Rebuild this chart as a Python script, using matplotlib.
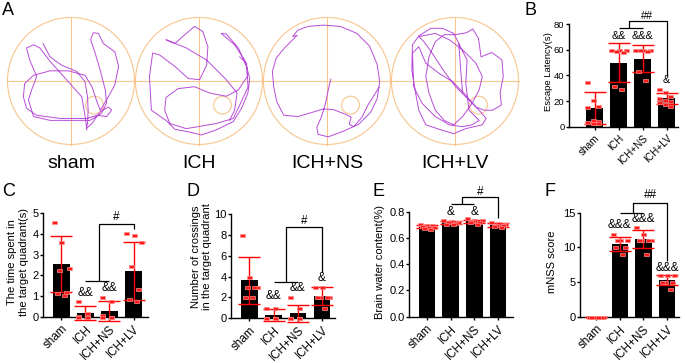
import numpy as np
import matplotlib.pyplot as plt
from matplotlib.patches import Circle

plt.rcParams['font.family'] = ['Liberation Sans', 'DejaVu Sans']

W, H = 685, 363
groups = ['sham', 'ICH', 'ICH+NS', 'ICH+LV']

# ---- A: swim paths (pool radius = 1, x right, y up)
sham_path = [(-0.44, 0.59), (-0.33, 0.38), (-0.15, 0.25), (0.09, 0.15), (0.22, -0.01), (0.26, -0.25),
             (0.27, -0.46), (0.26, -0.67), (0.24, -0.75), (0.33, -0.67), (0.46, -0.48), (0.59, -0.41),
             (0.64, -0.46), (0.56, -0.56), (0.41, -0.54), (0.25, -0.59), (-0.17, -0.59), (-0.54, -0.54),
             (-0.70, -0.43), (-0.75, -0.25), (-0.73, -0.04), (-0.59, 0.09), (-0.33, 0.16), (-0.04, 0.16),
             (0.22, 0.09), (0.33, -0.09), (0.41, -0.33), (0.46, -0.46), (0.56, -0.30), (0.69, -0.06),
             (0.75, 0.23), (0.69, 0.46), (0.51, 0.59), (0.43, 0.75), (0.35, 0.76), (0.31, 0.65),
             (0.38, 0.44), (0.46, 0.17), (0.54, -0.14), (0.56, -0.35), (0.48, -0.51), (0.30, -0.62),
             (-0.33, -0.62), (-0.59, -0.56), (-0.67, -0.30), (-0.62, -0.14), (-0.54, 0.07), (-0.65, 0.33),
             (-0.70, 0.52), (-0.59, 0.57), (-0.49, 0.52), (-0.33, 0.31), (-0.07, 0.02), (0.17, -0.25),
             (0.22, -0.54), (0.25, -0.77)]
ich_path = [(0.48, -0.62), (0.56, -0.46), (0.60, -0.19), (0.43, 0.02), (0.12, 0.33), (-0.20, 0.52),
            (-0.52, 0.65), (-0.38, 0.59), (-0.20, 0.75), (-0.07, 0.86), (0.06, 0.78), (0.14, 0.54),
            (0.12, 0.25), (0.01, 0.02), (-0.17, 0.04), (-0.38, 0.23), (-0.62, 0.41), (-0.73, 0.44),
            (-0.78, 0.07), (-0.75, -0.46), (-0.52, -0.62), (-0.38, -0.76), (-0.17, -0.80), (0.04, -0.85),
            (0.27, -0.77), (0.54, -0.64), (0.67, -0.43), (0.77, -0.19), (0.80, 0.04), (0.72, 0.33),
            (0.56, 0.57), (0.35, 0.75), (0.43, 0.74), (0.62, 0.52), (0.76, 0.20), (0.77, -0.10),
            (0.64, -0.38), (0.54, -0.59), (0.27, -0.67), (0.04, -0.71), (-0.20, -0.75), (-0.46, -0.67),
            (-0.54, -0.46), (-0.52, -0.26), (-0.33, -0.12), (-0.07, -0.09), (0.17, -0.19), (0.43, -0.24),
            (0.62, -0.14), (0.76, 0.07), (0.75, 0.28), (0.64, 0.38)]
ns_path = [(0.06, 0.03), (0.02, -0.14), (-0.03, -0.38), (-0.09, -0.57), (-0.16, -0.73), (-0.14, -0.84),
           (0.02, -0.88), (0.26, -0.79), (0.50, -0.68), (0.69, -0.49), (0.79, -0.28), (0.83, -0.01),
           (0.79, 0.26), (0.67, 0.55), (0.47, 0.75), (0.21, 0.86), (-0.06, 0.88), (-0.30, 0.86),
           (-0.46, 0.80), (-0.54, 0.70), (-0.47, 0.72), (-0.56, 0.63), (-0.67, 0.52), (-0.80, 0.36),
           (-0.86, 0.15), (-0.84, -0.09), (-0.79, -0.33), (-0.68, -0.54), (-0.46, -0.56), (-0.22, -0.49),
           (-0.06, -0.44), (0.10, -0.45), (0.28, -0.52), (0.38, -0.57), (0.35, -0.68), (0.42, -0.72),
           (0.55, -0.57), (0.65, -0.37), (0.82, -0.10)]
lv_path = [(0.12, -0.19), (0.09, 0.17), (0.06, 0.59), (-0.02, 0.75), (-0.20, 0.83), (-0.38, 0.83),
           (-0.57, 0.71), (-0.67, 0.57), (-0.68, 0.17), (-0.62, -0.19), (-0.57, -0.46), (-0.46, -0.69),
           (-0.25, -0.76), (-0.02, -0.83), (0.17, -0.75), (0.43, -0.69), (0.49, -0.59), (0.38, -0.46),
           (0.22, -0.30), (0.01, -0.09), (-0.17, 0.15), (-0.36, 0.44), (-0.49, 0.62), (-0.57, 0.70),
           (-0.31, 0.75), (-0.09, 0.65), (0.12, 0.49), (0.33, 0.28), (0.43, 0.07), (0.38, -0.14),
           (0.27, -0.35), (0.12, -0.56), (-0.02, -0.69), (-0.17, -0.62), (-0.31, -0.46), (-0.41, -0.19),
           (-0.46, 0.07), (-0.41, 0.38), (-0.31, 0.62), (-0.17, 0.73), (0.01, 0.73), (0.18, 0.76),
           (0.28, 0.82), (0.37, 0.67), (0.41, 0.38), (0.58, 0.45), (0.74, 0.33), (0.76, 0.07),
           (0.71, -0.19), (0.73, -0.38), (0.59, -0.46), (0.46, -0.46), (0.33, -0.41), (0.14, -0.19),
           (-0.04, -0.01), (-0.25, 0.12), (-0.46, 0.28), (-0.57, 0.54), (-0.67, 0.44), (-0.65, -0.09),
           (-0.52, -0.35), (-0.31, -0.56), (-0.09, -0.69), (0.12, -0.72), (0.27, -0.69), (0.38, -0.62),
           (0.22, -0.46), (0.17, -0.04), (0.19, 0.33), (0.06, 0.59)]
paths = [sham_path, ich_path, ns_path, lv_path]
platform = (0.37, -0.38, 0.14)

# ---- B: escape latency
latency_mean = [14.5, 50, 53, 22]
latency_sd = [12.3, 15, 10.5, 4.5]
latency_pts = [[34.5, 21, 16, 15, 5.5, 4.5, 4, 3, 2.5],
               [60, 60, 60, 59, 58, 31.5, 29.5],
               [60, 60, 60, 60, 59, 43, 36],
               [29, 27, 24, 22, 21, 20, 19, 18, 16]]

# ---- C: time in target quadrant
time_mean = [2.55, 0.18, 0.28, 2.2]
time_sd = [1.37, 0.32, 0.5, 1.4]
time_pts = [[4.6, 3.6, 2.35, 2.25, 1.18, 1.15, 1.05],
            [0.75, 0.2, 0.05, 0, 0, 0],
            [0.95, 0.75, 0.1, 0, 0, 0],
            [4.05, 3.95, 3.6, 2.45, 1.35, 0.85, 0.75]]

# ---- D: crossings
cross_mean = [3.65, 0.3, 0.45, 2.15]
cross_sd = [2.27, 0.6, 0.85, 0.85]
cross_pts = [[8, 4, 3, 3, 3, 2, 2],
             [1, 1, 0, 0, 0, 0],
             [2, 1, 0, 0, 0, 0],
             [3, 3, 2, 2, 2, 2, 1]]

# ---- E: brain water content
water_mean = [0.686, 0.718, 0.727, 0.699]
water_sd = [0.012, 0.01, 0.012, 0.012]
water_pts = [[0.705, 0.70, 0.695, 0.69, 0.685, 0.68, 0.675, 0.67],
             [0.735, 0.73, 0.725, 0.72, 0.715, 0.71, 0.705],
             [0.75, 0.74, 0.735, 0.73, 0.725, 0.72, 0.71],
             [0.72, 0.715, 0.705, 0.70, 0.695, 0.69, 0.685]]

# ---- F: mNSS
mnss_mean = [0, 10.5, 11.2, 5.3]
mnss_sd = [0, 1.0, 1.35, 0.7]
mnss_pts = [[0, 0, 0, 0, 0, 0, 0],
            [12, 11, 11, 11, 10, 10, 9],
            [13, 12, 11, 11, 11, 11, 9],
            [6, 6, 6, 5, 5, 5, 4]]

orange = '#f8c58c'
purple = '#b84cd8'
rect_marker = [(-1, -0.6), (1, -0.6), (1, 0.6), (-1, 0.6), (-1, -0.6)]

fig = plt.figure(figsize=(W / 100, H / 100), dpi=100)


def px_rect(l, t, r, b):
    return [l / W, 1 - b / H, (r - l) / W, (b - t) / H]


# panel A, axes in pixel units
axA = fig.add_axes(px_rect(0, 0, 525, 180))
axA.set_xlim(0, 525)
axA.set_ylim(180, 0)
axA.axis('off')
cy, R = 81, 63.5
axA.plot([8, 518.5], [cy, cy], color=orange, lw=0.8)
for i, name in enumerate(groups):
    cx = 71 + 128 * i
    axA.add_patch(Circle((cx, cy), R, fill=False, ec=orange, lw=0.8))
    axA.plot([cx, cx], [cy - R, cy + R], color=orange, lw=0.8)
    axA.add_patch(Circle((cx + platform[0] * R, cy - platform[1] * R), platform[2] * R,
                         fill=False, ec=orange, lw=0.8))
    p = np.array(paths[i])
    axA.plot(cx + p[:, 0] * R, cy - p[:, 1] * R, color=purple, lw=0.7, solid_joinstyle='round')
    axA.text(cx, 163, name, fontsize=14, ha='center', va='center')


def jitter(n, spread=0.6):
    if n < 2:
        return np.zeros(n)
    idx = (np.arange(n) * 3) % n
    return (idx - (n - 1) / 2) / (n - 1) * spread


def bar_panel(rect, means, sds, pts, xlim, ylim, yticks, ylabel, lab_xy,
              tick_fs=8, lab_fs=8, xlab_fs=8.4, lsp=1.2):
    ax = fig.add_axes(px_rect(*rect))
    x = np.arange(len(groups))
    ax.bar(x, means, width=0.68, color='black', zorder=1)
    ax.errorbar(x, means, yerr=sds, fmt='none', ecolor='red', elinewidth=1.0,
                capsize=8, capthick=1.0, zorder=3, clip_on=False)
    for i, p in enumerate(pts):
        ax.plot(x[i] + jitter(len(p)), p, marker=rect_marker, ls='none', ms=3.6,
                mfc='#ff1a1a', mec='#ff8a8a', mew=0.5, zorder=4, clip_on=False)
    ax.set_xlim(*xlim)
    ax.set_ylim(*ylim)
    ax.set_yticks(yticks)
    ax.set_xticks(x)
    ax.set_xticklabels(groups, rotation=45, ha='right', va='top', rotation_mode='anchor',
                       fontsize=xlab_fs)
    ax.tick_params(axis='both', length=2.5, width=1.0, pad=0.8, labelsize=tick_fs)
    ax.tick_params(axis='x', pad=2.0, labelsize=xlab_fs)
    for s in ['top', 'right']:
        ax.spines[s].set_visible(False)
    for s in ['left', 'bottom']:
        ax.spines[s].set_linewidth(1.0)
    ax.set_ylabel(ylabel, fontsize=lab_fs, linespacing=lsp)
    ax.yaxis.set_label_coords(*lab_xy)
    return ax


def bracket(ax, low, xm, top, xr, end, mark, mx, my, fs=8.5):
    kw = dict(color='black', lw=0.9, clip_on=False, solid_capstyle='butt')
    ax.plot([1, 2], [low, low], **kw)
    ax.plot([xm, xm, xr, xr], [low, top, top, end], **kw)
    ax.text(mx, my, mark, fontsize=fs, ha='center', va='center')


def marks(ax, items, fs=8.5):
    for xx, yy, t in items:
        ax.text(xx, yy, t, fontsize=fs, ha='center', va='center')


axB = bar_panel((569, 24, 678, 126.7), latency_mean, latency_sd, latency_pts,
                (-1.07, 3.48), (0, 80), [0, 20, 40, 60, 80], 'Escape Latency(s)', (-0.15, 0.535),
                tick_fs=6.8, lab_fs=6.8, xlab_fs=7.2)
bracket(axB, 76.6, 1.45, 82.4, 3, 39.5, '##', 2.2, 86.5, fs=7.8)
marks(axB, [(1, 70.6, '&&'), (2, 70.6, '&&&'), (3, 36.3, '&')], fs=7.8)

axC = bar_panel((43.3, 213.3, 148, 316.7), time_mean, time_sd, time_pts,
                (-0.75, 3.6), (0, 5), [0, 1, 2, 3, 4, 5],
                'The time spent in\nthe target quadrant(s)', (-0.137, 0.53))
bracket(axC, 1.73, 1.58, 4.48, 3, 4.24, '#', 2.27, 4.8)
marks(axC, [(1, 1.16, '&&'), (2, 1.37, '&&')])

axD = bar_panel((231, 214.3, 335, 318), cross_mean, cross_sd, cross_pts,
                (-0.76, 3.54), (0, 10), [0, 2, 4, 6, 8, 10],
                'Number of crossings\nin the target quadrant', (-0.186, 0.59), lsp=1.12)
bracket(axD, 3.5, 1.5, 8.77, 3, 4.48, '#', 2.25, 9.4)
marks(axD, [(1, 2.14, '&&'), (2, 2.86, '&&'), (3, 3.83, '&')])

axE = bar_panel((409.3, 211.7, 513.3, 316.7), water_mean, water_sd, water_pts,
                (-0.73, 3.63), (0, 0.8), [0.0, 0.2, 0.4, 0.6, 0.8],
                'Brain water content(%)', (-0.234, 0.52))
axE.set_yticklabels(['0.0', '0.2', '0.4', '0.6', '0.8'])
bracket(axE, 0.858, 1.46, 0.909, 3, 0.749, '#', 2.23, 0.952)
marks(axE, [(1, 0.795, '&'), (2, 0.795, '&')])

axF = bar_panel((580, 212.7, 679, 316.7), mnss_mean, mnss_sd, mnss_pts,
                (-0.68, 3.5), (0, 15), [0, 5, 10, 15], 'mNSS score', (-0.235, 0.53))
bracket(axF, 15.0, 1.57, 16.4, 3, 8.0, '##', 2.3, 17.5)
marks(axF, [(1, 13.2, '&&&'), (2, 14.1, '&&&'), (3, 7.0, '&&&')])

for letter, lx, ly in [('A', 2, 2), ('B', 524, 2), ('C', 2, 183), ('D', 187, 183),
                       ('E', 373, 183), ('F', 545, 183)]:
    fig.text(lx / W, 1 - ly / H, letter, fontsize=13, ha='left', va='top')

fig.savefig('out.png', dpi=100)
